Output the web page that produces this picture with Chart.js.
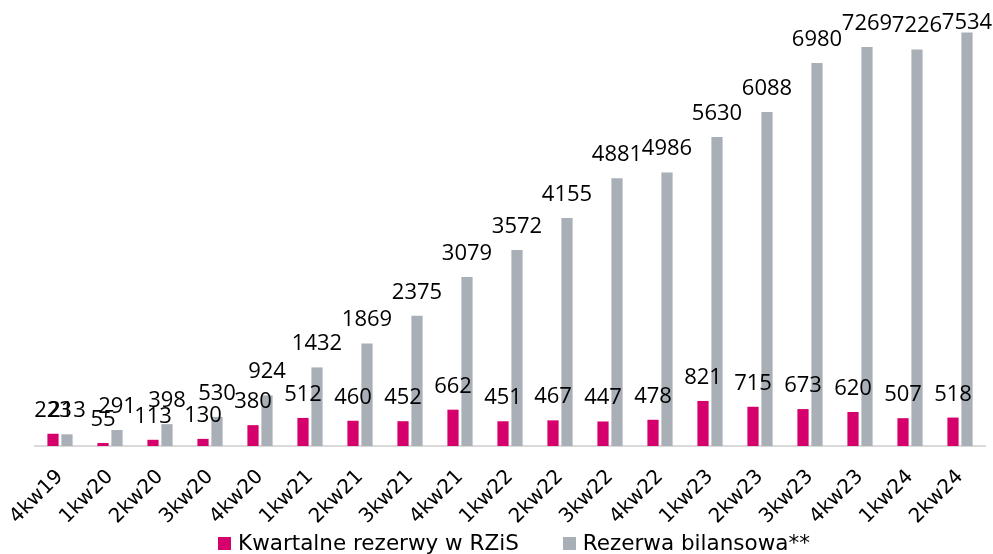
<!DOCTYPE html>
<html>
<head>
<meta charset="utf-8">
<script src="https://cdn.jsdelivr.net/npm/chart.js@4/dist/chart.umd.min.js"></script>
<style>
  html, body { margin: 0; padding: 0; background: #fff; }
  #wrap { position: relative; width: 993px; height: 554px; }
  #legend {
    position: absolute; left: 35px; right: 0; top: 531px;
    display: flex; justify-content: center; gap: 44px;
    font-family: "DejaVu Sans", sans-serif; font-size: 21.5px; color: #000;
    line-height: 24px;
  }
  #legend span.item { display: flex; align-items: center; }
  #legend i { display: inline-block; width: 13px; height: 13px; margin-right: 7px; }
</style>
</head>
<body>
<div id="wrap">
  <canvas id="myChart"></canvas>
  <div id="legend"></div>
</div>
<script>
// quarters shown on the x axis
const quarters = ['4kw19', '1kw20', '2kw20', '3kw20', '4kw20', '1kw21', '2kw21', '3kw21', '4kw21',
  '1kw22', '2kw22', '3kw22', '4kw22', '1kw23', '2kw23', '3kw23', '4kw23', '1kw24', '2kw24'];

// quarterly provisions (P&L) and balance sheet reserve
const kwartalne = [223, 55, 113, 130, 380, 512, 460, 452, 662, 451, 467, 447, 478, 821, 715, 673, 620, 507, 518];
const bilansowa = [213, 291, 398, 530, 924, 1432, 1869, 2375, 3079, 3572, 4155, 4881, 4986, 5630, 6088, 6980, 7269, 7226, 7534];

const seriesNames = ['Kwartalne rezerwy w RZiS', 'Rezerwa bilansowa**'];
const seriesColors = ['rgb(214, 0, 108)', 'rgb(168, 175, 183)'];

// draws the value above each bar (no datalabels plugin offline)
const valueLabels = {
  id: 'valueLabels',
  afterDatasetsDraw(chart) {
    const c = chart.ctx;
    c.save();
    c.font = '22px "Open Sans"';
    c.fillStyle = '#000';
    c.textAlign = 'center';
    c.textBaseline = 'alphabetic';
    chart.data.datasets.forEach((ds, i) => {
      chart.getDatasetMeta(i).data.forEach((bar, j) => {
        let y = Math.max(bar.y - 17, 29);
        c.fillText(ds.data[j], bar.x, y);
      });
    });
    c.restore();
  }
};

const ctx = document.getElementById('myChart').getContext('2d');

const myChart = new Chart(ctx, {
  type: 'bar',
  data: {
    labels: quarters,
    datasets: [{
      label: seriesNames[0],
      data: kwartalne,
      backgroundColor: seriesColors[0],
      categoryPercentage: 0.56,
      barPercentage: 0.8
    }, {
      label: seriesNames[1],
      data: bilansowa,
      backgroundColor: seriesColors[1],
      categoryPercentage: 0.56,
      barPercentage: 0.8
    }]
  },
  options: {
    responsive: true,
    maintainAspectRatio: false,
    animation: false,
    layout: { padding: { top: 7, right: 0, left: 0, bottom: 0 } },
    scales: {
      x: {
        grid: { display: false, drawTicks: false },
        border: { color: '#d9d9d9', width: 2 },
        ticks: {
          autoSkip: false,
          maxRotation: 45,
          minRotation: 45,
          padding: 19,
          color: '#000',
          font: { family: '"DejaVu Sans"', size: 20 }
        },
        afterFit(scale) {
          scale.height = 108;
          scale.paddingLeft = 35;
          scale.paddingRight = 8;
        }
      },
      y: {
        display: false,
        min: 0,
        max: 8000
      }
    },
    plugins: {
      legend: { display: false },
      tooltip: { enabled: false }
    }
  },
  plugins: [valueLabels]
});

// legend below the chart
const legendEl = document.getElementById('legend');
myChart.data.datasets.forEach((ds) => {
  const item = document.createElement('span');
  item.className = 'item';
  const box = document.createElement('i');
  box.style.background = ds.backgroundColor;
  item.appendChild(box);
  item.appendChild(document.createTextNode(ds.label));
  legendEl.appendChild(item);
});
</script>
</body>
</html>
